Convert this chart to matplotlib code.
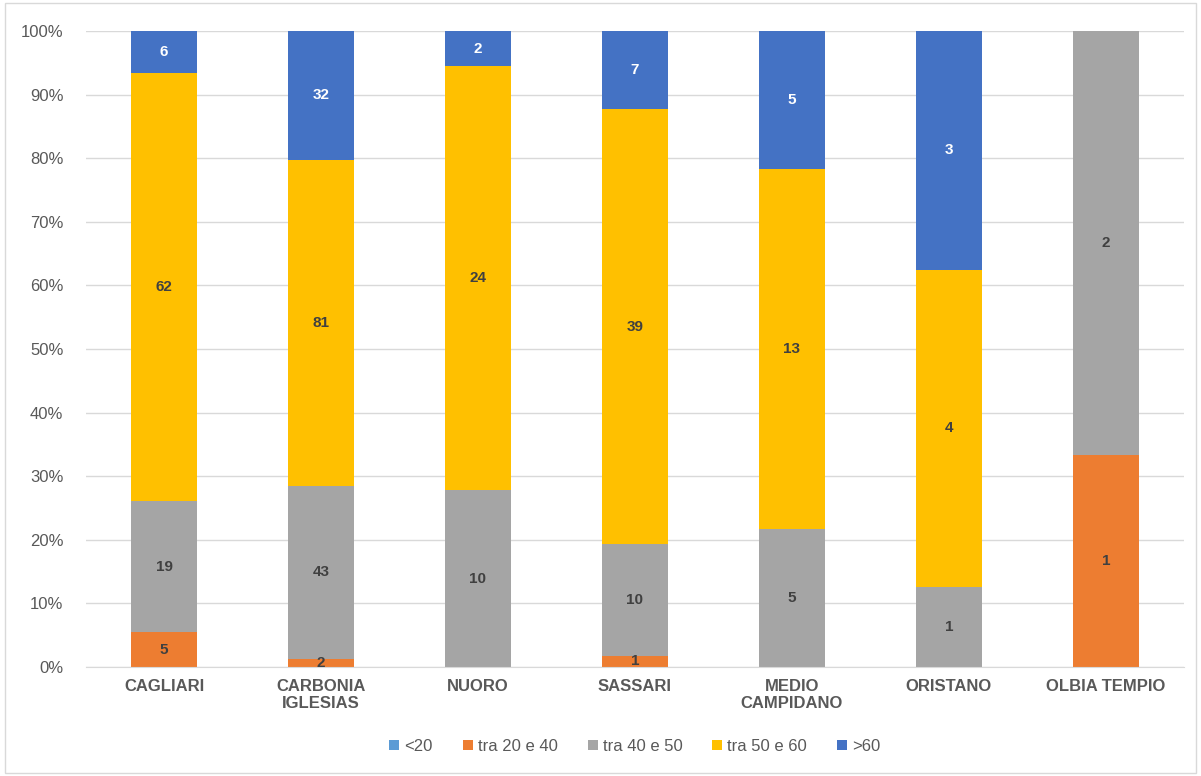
import matplotlib.pyplot as plt
import numpy as np
from matplotlib.patches import Rectangle

categories = ["CAGLIARI", "CARBONIA\nIGLESIAS", "NUORO", "SASSARI",
              "MEDIO\nCAMPIDANO", "ORISTANO", "OLBIA TEMPIO"]
series_names = ["<20", "tra 20 e 40", "tra 40 e 50", "tra 50 e 60", ">60"]
under_20 = [0, 0, 0, 0, 0, 0, 0]
tra_20_40 = [5, 2, 0, 1, 0, 0, 1]
tra_40_50 = [19, 43, 10, 10, 5, 1, 2]
tra_50_60 = [62, 81, 24, 39, 13, 4, 0]
over_60 = [6, 32, 2, 7, 5, 3, 0]

colors = ["#5B9BD5", "#ED7D31", "#A5A5A5", "#FFC000", "#4472C4"]
label_colors = ["white", "#404040", "#404040", "#404040", "white"]

counts = np.array([under_20, tra_20_40, tra_40_50, tra_50_60, over_60], dtype=float)
totals = counts.sum(axis=0)
shares = counts / totals * 100

plt.rcParams["font.family"] = ["Liberation Sans", "DejaVu Sans"]

fig = plt.figure(figsize=(12.01, 7.76), dpi=100)
fig.patches.append(Rectangle((0.004, 0.004), 0.992, 0.992, transform=fig.transFigure,
                             fill=False, edgecolor="#D9D9D9", linewidth=1))
ax = fig.add_axes([0.0712, 0.1405, 0.915, 0.8195])

x = np.arange(len(categories))
bottom = np.zeros(len(categories))
for i, name in enumerate(series_names):
    ax.bar(x, shares[i], 0.42, bottom=bottom, color=colors[i], label=name, zorder=2)
    for j in range(len(categories)):
        if counts[i, j] > 0:
            ax.text(x[j], bottom[j] + shares[i, j] / 2, f"{int(counts[i, j])}",
                    ha="center", va="center", fontsize=11, fontweight="bold",
                    color=label_colors[i], zorder=3)
    bottom += shares[i]

ax.set_xlim(-0.5, len(categories) - 0.5)
ax.set_ylim(0, 100)
ax.set_yticks(np.arange(0, 101, 10))
ax.set_yticklabels([f"{v}%" for v in range(0, 101, 10)], fontsize=12, color="#595959")
ax.set_xticks(x)
ax.set_xticklabels(categories, fontsize=12, fontweight="bold", color="#595959",
                   linespacing=1.1)
ax.tick_params(axis="y", length=0, pad=16)
ax.tick_params(axis="x", length=0, pad=9)
ax.grid(axis="y", color="#D9D9D9", linewidth=1, zorder=0)
for side in ["top", "right", "left"]:
    ax.spines[side].set_visible(False)
ax.spines["bottom"].set_color("#D9D9D9")

ax.legend(loc="center", bbox_to_anchor=(0.5, -0.125), ncol=5, frameon=False,
          fontsize=12, handlelength=0.6, handleheight=0.6, handletextpad=0.3,
          columnspacing=1.8, labelcolor="#595959")

fig.savefig("out.png", dpi=100)
